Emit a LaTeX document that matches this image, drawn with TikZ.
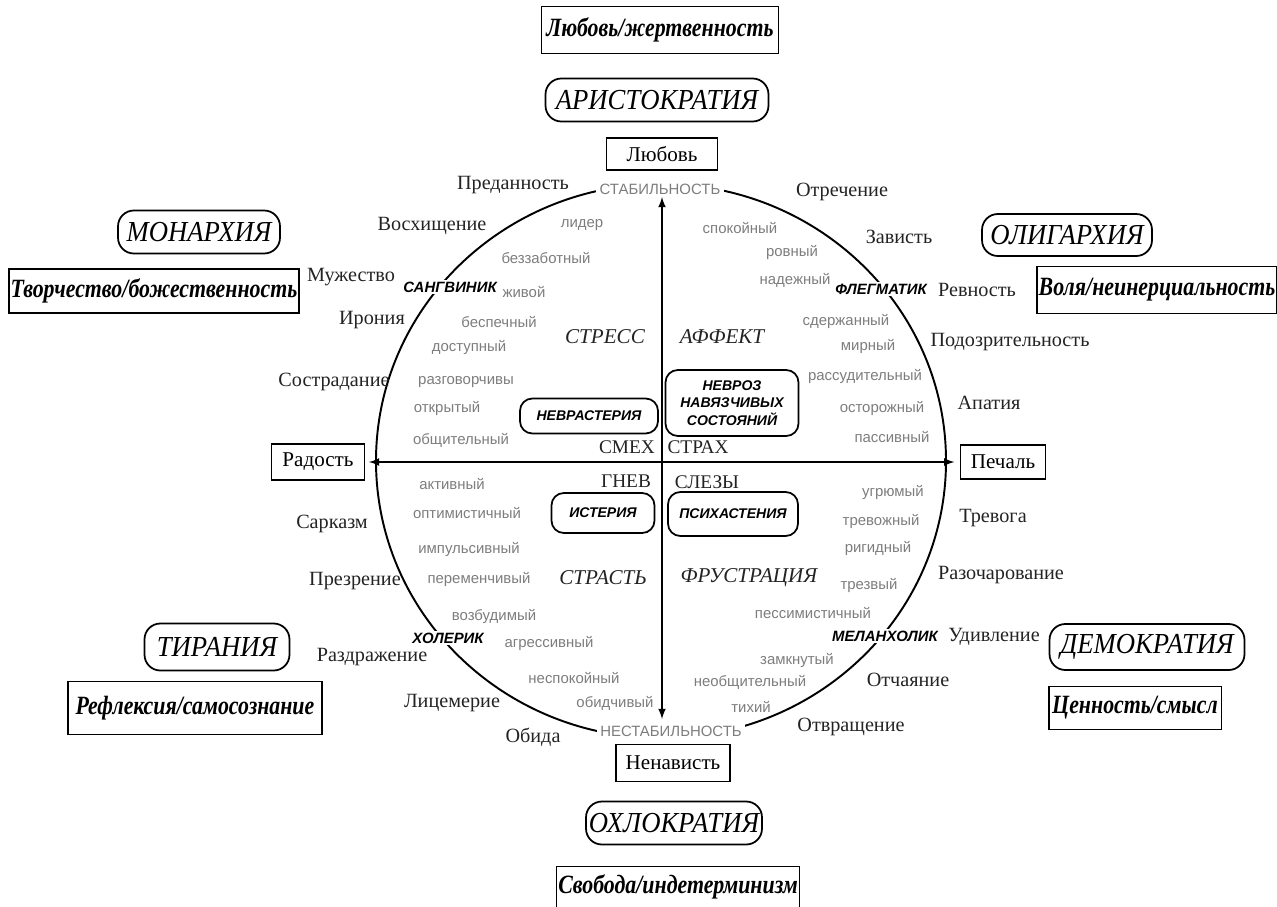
\documentclass[tikz,border=0pt]{standalone}
\usepackage{fontspec}
\setmainfont{Liberation Serif}
\setsansfont{Liberation Sans}
\newfontfamily\valfont[FakeStretch=0.83]{Liberation Serif}
\newfontfamily\regfont[FakeStretch=0.92]{Liberation Serif}
\definecolor{trait}{RGB}{125,125,125}
\definecolor{ink}{RGB}{35,35,35}

\begin{document}
\begin{tikzpicture}[x=0.02cm, y=-0.02cm, >=latex,
  every node/.style={inner sep=1pt},
  valbox/.style={draw, line width=1.1pt, font=\valfont\bfseries\itshape\fontsize{15}{17}\selectfont},
  regime/.style={draw, line width=1pt, rounded corners=9pt, font=\regfont\itshape\fontsize{16.5}{18}\selectfont},
  emobox/.style={draw, line width=1pt, font=\fontsize{12}{14}\selectfont},
  emo/.style={text=ink, font=\fontsize{11.5}{13}\selectfont},
  trait/.style={text=trait, font=\sffamily\fontsize{8.5}{10}\selectfont},
  temper/.style={fill=white, font=\sffamily\bfseries\itshape\fontsize{8.5}{10}\selectfont},
  neur/.style={draw, line width=1pt, rounded corners=7pt, align=center, font=\sffamily\bfseries\itshape\fontsize{8}{10}\selectfont},
  phase/.style={text=ink, font=\itshape\fontsize{12}{14}\selectfont},
  pole/.style={fill=white, text=trait, inner sep=2pt, font=\sffamily\fontsize{8.5}{10}\selectfont},
  react/.style={text=ink, font=\fontsize{11}{13}\selectfont}]
  \useasboundingbox (0,0) rectangle (1277,906);

  %% circle of temperaments
  \draw[line width=1.1pt] (661,461) ellipse [x radius=285, y radius=277];

  %% outer values and regimes
  \node[valbox, minimum width=4.74cm, minimum height=0.94cm] (love-val) at (660,30) {Любовь/жертвенность};
  \node[regime, minimum width=4.46cm, minimum height=0.86cm] (aristo) at (657,100) {АРИСТОКРАТИЯ};
  \node[regime, minimum width=3.24cm, minimum height=0.86cm] (monarch) at (199,232) {МОНАРХИЯ};
  \node[regime, minimum width=3.4cm, minimum height=0.84cm] (oligarch) at (1067,235) {ОЛИГАРХИЯ};
  \node[valbox, minimum width=5.76cm, minimum height=0.88cm] (creat-val) at (154,291) {Творчество/божественность};
  \node[valbox, minimum width=4.64cm, minimum height=0.94cm] (will-val) at (1157,290) {Воля/неинерциальность};
  \node[regime, minimum width=2.9cm, minimum height=0.94cm] (tyranny) at (217,647) {ТИРАНИЯ};
  \node[regime, minimum width=3.9cm, minimum height=0.92cm] (democr) at (1147,647) {ДЕМОКРАТИЯ};
  \node[valbox, minimum width=5.08cm, minimum height=1.06cm] (refl-val) at (195,708) {Рефлексия/самосознание};
  \node[valbox, minimum width=3.46cm, minimum height=0.86cm] (sense-val) at (1135,708) {Ценность/смысл};
  \node[regime, minimum width=3.52cm, minimum height=0.86cm] (ochlo) at (674,823) {ОХЛОКРАТИЯ};
  \node[valbox, minimum width=4.8cm, minimum height=0.82cm] (free-val) at (678,887) {Свобода/индетерминизм};

  %% basic emotions on the axes
  \node[emobox, minimum width=2.22cm, minimum height=0.64cm] (love) at (662,154) {Любовь};
  \node[emobox, minimum width=1.86cm, minimum height=0.72cm] (joy) at (318,462) {Радость};
  \node[emobox, minimum width=1.7cm, minimum height=0.68cm] (sorrow) at (1003,462) {Печаль};
  \node[emobox, minimum width=2.28cm, minimum height=0.74cm] (hate) at (673,763) {Ненависть};

  \node[pole] (stab) at (660,189) {СТАБИЛЬНОСТЬ};
  \node[pole] (nestab) at (671,731) {НЕСТАБИЛЬНОСТЬ};
  \coordinate (vtop) at (662,197);
  \coordinate (vbot) at (662,719);
  \draw[<->, line width=1pt] (vtop) -- (vbot);
  \draw[<->, line width=1pt, shorten <=2pt, shorten >=3pt] (joy.east) -- (sorrow.west);

  %% temperaments on the circle
  \node[temper] (sangv) at (450,287) {САНГВИНИК};
  \node[temper] (flegm) at (881,289) {ФЛЕГМАТИК};
  \node[temper] (holer) at (448,638) {ХОЛЕРИК};
  \node[temper] (melan) at (885,636) {МЕЛАНХОЛИК};

  %% neuroses
  \node[neur, minimum width=2.76cm, minimum height=0.7cm] (nevrast) at (589,416) {НЕВРАСТЕРИЯ};
  \node[neur, minimum width=2.66cm, minimum height=1.32cm] (nevroz) at (732,403) {НЕВРОЗ\\НАВЯЗЧИВЫХ\\СОСТОЯНИЙ};
  \node[neur, minimum width=2.06cm, minimum height=0.8cm] (isteria) at (603,513) {ИСТЕРИЯ};
  \node[neur, minimum width=2.6cm, minimum height=0.88cm] (psihast) at (733,514) {ПСИХАСТЕНИЯ};

  %% states in the quadrants
  \node[phase] (stress) at (605,337) {СТРЕСС};
  \node[phase] (affect) at (722,337) {АФФЕКТ};
  \node[phase] (passion) at (603,578) {СТРАСТЬ};
  \node[phase] (frustr) at (749,578) {ФРУСТРАЦИЯ};
  \node[react] (laugh) at (627,447) {СМЕХ};
  \node[react] (fear) at (698,447) {СТРАХ};
  \node[react] (anger) at (626,481) {ГНЕВ};
  \node[react] (tears) at (707,482) {СЛЕЗЫ};

  %% emotions round the circle
  \node[emo] (e1) at (513,185) {Преданность};
  \node[emo] (e2) at (842,192) {Отречение};
  \node[emo] (e3) at (432,226) {Восхищение};
  \node[emo] (e4) at (899,237) {Зависть};
  \node[emo] (e5) at (351,277) {Мужество};
  \node[emo] (e6) at (977,290) {Ревность};
  \node[emo] (e7) at (372,320) {Ирония};
  \node[emo] (e8) at (1010,342) {Подозрительность};
  \node[emo] (e9) at (334,382) {Сострадание};
  \node[emo] (e10) at (989,403) {Апатия};
  \node[emo] (e11) at (332,524) {Сарказм};
  \node[emo] (e12) at (993,518) {Тревога};
  \node[emo] (e13) at (355,581) {Презрение};
  \node[emo] (e14) at (1001,575) {Разочарование};
  \node[emo] (e15) at (372,657) {Раздражение};
  \node[emo] (e16) at (994,637) {Удивление};
  \node[emo] (e17) at (452,703) {Лицемерие};
  \node[emo] (e18) at (908,680) {Отчаяние};
  \node[emo] (e19) at (533,737) {Обида};
  \node[emo] (e20) at (851,727) {Отвращение};

  %% traits: sanguine
  \node[trait] (t1) at (582,225) {лидер};
  \node[trait] (t2) at (546,258) {беззаботный};
  \node[trait] (t3) at (524,292) {живой};
  \node[trait] (t4) at (499,322) {беспечный};
  \node[trait] (t5) at (469,348) {доступный};
  \node[trait] (t6) at (466,382) {разговорчивы};
  \node[trait] (t7) at (447,409) {открытый};
  \node[trait] (t8) at (461,440) {общительный};
  %% traits: phlegmatic
  \node[trait] (t9) at (740,228) {спокойный};
  \node[trait] (t10) at (792,253) {ровный};
  \node[trait] (t11) at (795,280) {надежный};
  \node[trait] (t12) at (846,322) {сдержанный};
  \node[trait] (t13) at (868,347) {мирный};
  \node[trait] (t14) at (865,377) {рассудительный};
  \node[trait] (t15) at (882,409) {осторожный};
  \node[trait] (t16) at (892,437) {пассивный};
  %% traits: choleric
  \node[trait] (t17) at (452,484) {активный};
  \node[trait] (t18) at (467,513) {оптимистичный};
  \node[trait] (t19) at (469,549) {импульсивный};
  \node[trait] (t20) at (479,579) {переменчивый};
  \node[trait] (t21) at (494,616) {возбудимый};
  \node[trait] (t22) at (549,643) {агрессивный};
  \node[trait] (t23) at (574,678) {неспокойный};
  \node[trait] (t24) at (615,703) {обидчивый};
  %% traits: melancholic
  \node[trait] (t25) at (893,492) {угрюмый};
  \node[trait] (t26) at (881,522) {тревожный};
  \node[trait] (t27) at (878,548) {ригидный};
  \node[trait] (t28) at (869,585) {трезвый};
  \node[trait] (t29) at (813,613) {пессимистичный};
  \node[trait] (t30) at (797,660) {замкнутый};
  \node[trait] (t31) at (750,682) {необщительный};
  \node[trait] (t32) at (751,707) {тихий};
\end{tikzpicture}
\end{document}
